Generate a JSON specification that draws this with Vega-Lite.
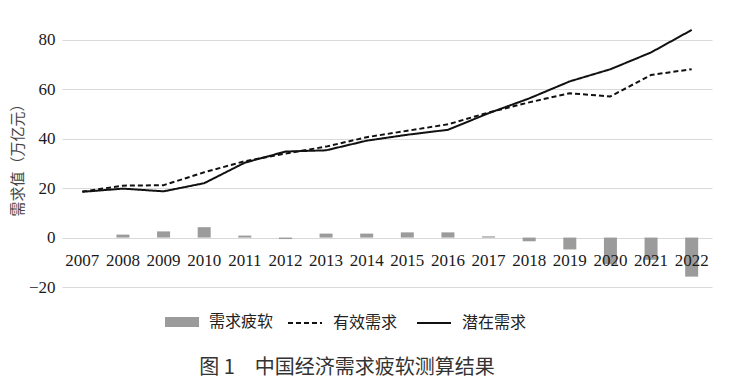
{
  "$schema": "https://vega.github.io/schema/vega-lite/v6.json",
  "width": 650,
  "height": 262,
  "autosize": {"type": "none"},
  "padding": {"left": 62, "top": 25, "right": 19, "bottom": 102},
  "background": "white",
  "config": {
    "font": "Liberation Serif",
    "view": {"stroke": null}
  },
  "title": {
    "text": "图 1　中国经济需求疲软测算结果",
    "orient": "bottom",
    "anchor": "middle",
    "font": "Noto Sans CJK SC",
    "fontSize": 20,
    "fontWeight": "normal",
    "color": "#333333",
    "dx": -40,
    "offset": 27
  },
  "data": {
    "values": [
      {"year": "2007", "series": "需求疲软", "value": 0},
      {"year": "2008", "series": "需求疲软", "value": 1.2},
      {"year": "2009", "series": "需求疲软", "value": 2.5},
      {"year": "2010", "series": "需求疲软", "value": 4.2},
      {"year": "2011", "series": "需求疲软", "value": 0.8},
      {"year": "2012", "series": "需求疲软", "value": -0.6},
      {"year": "2013", "series": "需求疲软", "value": 1.6},
      {"year": "2014", "series": "需求疲软", "value": 1.6},
      {"year": "2015", "series": "需求疲软", "value": 2.1},
      {"year": "2016", "series": "需求疲软", "value": 2.1},
      {"year": "2017", "series": "需求疲软", "value": 0.5},
      {"year": "2018", "series": "需求疲软", "value": -1.5},
      {"year": "2019", "series": "需求疲软", "value": -4.8},
      {"year": "2020", "series": "需求疲软", "value": -10.8},
      {"year": "2021", "series": "需求疲软", "value": -9.0},
      {"year": "2022", "series": "需求疲软", "value": -15.8},
      {"year": "2007", "series": "有效需求", "value": 18.6},
      {"year": "2008", "series": "有效需求", "value": 21.0},
      {"year": "2009", "series": "有效需求", "value": 21.2},
      {"year": "2010", "series": "有效需求", "value": 26.4},
      {"year": "2011", "series": "有效需求", "value": 30.9},
      {"year": "2012", "series": "有效需求", "value": 34.0},
      {"year": "2013", "series": "有效需求", "value": 36.8},
      {"year": "2014", "series": "有效需求", "value": 40.6},
      {"year": "2015", "series": "有效需求", "value": 43.2},
      {"year": "2016", "series": "有效需求", "value": 45.8},
      {"year": "2017", "series": "有效需求", "value": 50.6},
      {"year": "2018", "series": "有效需求", "value": 54.7},
      {"year": "2019", "series": "有效需求", "value": 58.4},
      {"year": "2020", "series": "有效需求", "value": 57.1},
      {"year": "2021", "series": "有效需求", "value": 65.8},
      {"year": "2022", "series": "有效需求", "value": 68.1},
      {"year": "2007", "series": "潜在需求", "value": 18.5},
      {"year": "2008", "series": "潜在需求", "value": 19.8},
      {"year": "2009", "series": "潜在需求", "value": 18.7},
      {"year": "2010", "series": "潜在需求", "value": 22.0},
      {"year": "2011", "series": "潜在需求", "value": 30.3},
      {"year": "2012", "series": "潜在需求", "value": 34.8},
      {"year": "2013", "series": "潜在需求", "value": 35.3},
      {"year": "2014", "series": "潜在需求", "value": 39.2},
      {"year": "2015", "series": "潜在需求", "value": 41.6},
      {"year": "2016", "series": "潜在需求", "value": 43.6},
      {"year": "2017", "series": "潜在需求", "value": 50.3},
      {"year": "2018", "series": "潜在需求", "value": 56.3},
      {"year": "2019", "series": "潜在需求", "value": 63.2},
      {"year": "2020", "series": "潜在需求", "value": 68.1},
      {"year": "2021", "series": "潜在需求", "value": 74.9},
      {"year": "2022", "series": "潜在需求", "value": 84.0}
    ]
  },
  "encoding": {
    "x": {
      "field": "year",
      "type": "ordinal",
      "scale": {"paddingInner": 0.68, "paddingOuter": 0.34},
      "axis": {
        "title": null,
        "orient": "bottom",
        "offset": -49.4,
        "zindex": 1,
        "domain": false,
        "ticks": false,
        "grid": false,
        "labelAngle": 0,
        "labelFontSize": 17,
        "labelColor": "#1a1a1a",
        "labelPadding": 15
      }
    },
    "y": {
      "field": "value",
      "type": "quantitative",
      "scale": {"domain": [-20, 86], "nice": false, "zero": false},
      "axis": {
        "values": [-20, 0, 20, 40, 60, 80],
        "grid": true,
        "gridColor": "#d9d9d9",
        "gridWidth": 1,
        "domain": false,
        "ticks": false,
        "labelFontSize": 17,
        "labelColor": "#1a1a1a",
        "labelPadding": 7,
        "title": "需求值（万亿元）",
        "titleFont": "Noto Sans CJK SC",
        "titleFontSize": 15,
        "titleFontWeight": "normal",
        "titleColor": "#444444",
        "titlePadding": 3
      }
    }
  },
  "layer": [
    {
      "transform": [{"filter": "datum.series === '需求疲软'"}],
      "mark": {"type": "bar"},
      "encoding": {
        "fill": {
          "field": "series",
          "type": "nominal",
          "scale": {"domain": ["需求疲软"], "range": ["#9b9b9b"]},
          "legend": {
            "title": null,
            "orient": "none",
            "legendX": 103,
            "legendY": 280,
            "direction": "horizontal",
            "symbolType": "M-1,-0.3H1V0.3H-1Z",
            "symbolSize": 1156,
            "symbolStrokeWidth": 0,
            "labelFont": "Noto Sans CJK SC",
            "labelFontSize": 16,
            "labelColor": "#222222",
            "labelOffset": 10
          }
        }
      }
    },
    {
      "transform": [{"filter": "datum.series !== '需求疲软'"}],
      "mark": {"type": "line", "color": "#111111", "strokeWidth": 2},
      "encoding": {
        "strokeDash": {
          "field": "series",
          "type": "nominal",
          "scale": {"domain": ["有效需求", "潜在需求"], "range": [[5, 3], [1, 0]]},
          "legend": {
            "title": null,
            "orient": "none",
            "legendX": 225,
            "legendY": 280,
            "direction": "horizontal",
            "symbolType": "stroke",
            "symbolSize": 1156,
            "symbolStrokeWidth": 2,
            "symbolStrokeColor": "#111111",
            "columnPadding": 15,
            "labelFont": "Noto Sans CJK SC",
            "labelFontSize": 16,
            "labelColor": "#222222",
            "labelOffset": 10
          }
        }
      }
    }
  ]
}
